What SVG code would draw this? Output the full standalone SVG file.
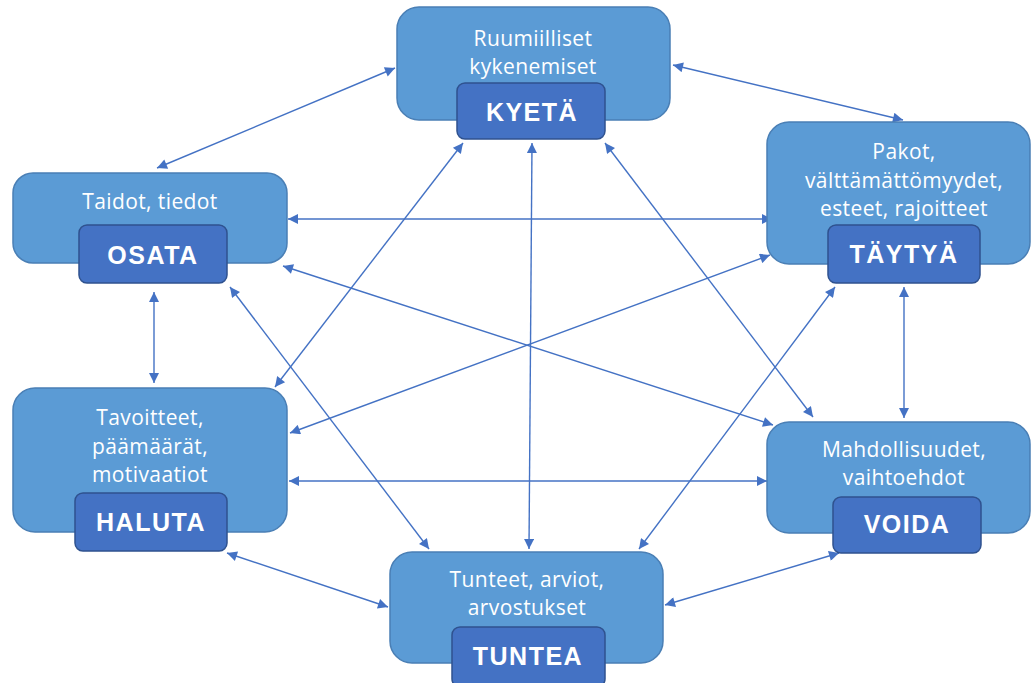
<svg xmlns="http://www.w3.org/2000/svg" width="1033" height="683" viewBox="0 0 1033 683">
<defs>
<style>
.outer{fill:#5b9bd5;stroke:#4a7fb5;stroke-width:1.5}
.inner{fill:#4472c4;stroke:#2f528f;stroke-width:1.5}
.t{font-family:"Open Sans","Liberation Sans",sans-serif;font-size:21px;letter-spacing:0.4px;fill:#ffffff;text-anchor:middle}
.lbl{font-family:"Liberation Sans",Arial,sans-serif;font-weight:bold;font-size:25px;letter-spacing:1.5px;fill:#ffffff;text-anchor:middle}
.c{stroke:#4472c4;stroke-width:1.4;fill:none;marker-start:url(#ah);marker-end:url(#ah)}
</style>
<marker id="ah" viewBox="0 0 10 10" refX="10" refY="5" markerWidth="12" markerHeight="10" markerUnits="userSpaceOnUse" orient="auto-start-reverse">
<path d="M0,0 L10,5 L0,10 Z" fill="#4472c4"/>
</marker>
</defs>
<rect width="1033" height="683" fill="#ffffff"/>
<g id="connectors">
<line class="c" x1="157" y1="168" x2="395" y2="68"/>
<line class="c" x1="673" y1="65" x2="903" y2="120"/>
<line class="c" x1="288" y1="219" x2="772" y2="219"/>
<line class="c" x1="154" y1="292" x2="154" y2="383"/>
<line class="c" x1="904" y1="287" x2="904" y2="418"/>
<line class="c" x1="289" y1="481" x2="767" y2="481"/>
<line class="c" x1="227" y1="553" x2="388" y2="607"/>
<line class="c" x1="839" y1="553" x2="665" y2="605"/>
<line class="c" x1="532" y1="143" x2="529" y2="549"/>
<line class="c" x1="463" y1="143" x2="275" y2="387"/>
<line class="c" x1="605" y1="143" x2="813" y2="417"/>
<line class="c" x1="283" y1="266" x2="773" y2="425"/>
<line class="c" x1="230" y1="287" x2="429" y2="549"/>
<line class="c" x1="770" y1="255" x2="290" y2="433"/>
<line class="c" x1="835" y1="287" x2="639" y2="549"/>
</g>
<g id="kyeta">
<rect class="outer" x="397" y="7" width="273" height="113" rx="22"/>
<text class="t" x="533" y="46">Ruumiilliset</text>
<text class="t" x="533" y="74">kykenemiset</text>
<rect class="inner" x="457" y="83" width="148" height="56" rx="8"/>
<text class="lbl" x="532" y="121">KYETÄ</text>
</g>
<g id="osata">
<rect class="outer" x="13" y="173" width="274" height="90" rx="20"/>
<text class="t" x="150" y="209">Taidot, tiedot</text>
<rect class="inner" x="79" y="225" width="148" height="58" rx="8"/>
<text class="lbl" x="153" y="264">OSATA</text>
</g>
<g id="taytya">
<rect class="outer" x="767" y="122" width="263" height="142" rx="22"/>
<text class="t" x="904" y="159">Pakot,</text>
<text class="t" x="904" y="188">välttämättömyydet,</text>
<text class="t" x="904" y="216">esteet, rajoitteet</text>
<rect class="inner" x="828" y="225" width="152" height="58" rx="8"/>
<text class="lbl" x="904" y="263">TÄYTYÄ</text>
</g>
<g id="haluta">
<rect class="outer" x="13" y="388" width="274" height="144" rx="22"/>
<text class="t" x="150" y="425">Tavoitteet,</text>
<text class="t" x="150" y="454">päämäärät,</text>
<text class="t" x="150" y="482">motivaatiot</text>
<rect class="inner" x="75" y="493" width="152" height="58" rx="8"/>
<text class="lbl" x="151" y="531">HALUTA</text>
</g>
<g id="voida">
<rect class="outer" x="767" y="422" width="263" height="111" rx="22"/>
<text class="t" x="904" y="457">Mahdollisuudet,</text>
<text class="t" x="904" y="485">vaihtoehdot</text>
<rect class="inner" x="833" y="497" width="148" height="56" rx="8"/>
<text class="lbl" x="907" y="533">VOIDA</text>
</g>
<g id="tuntea">
<rect class="outer" x="390" y="552" width="273" height="111" rx="22"/>
<text class="t" x="527" y="587">Tunteet, arviot,</text>
<text class="t" x="527" y="615">arvostukset</text>
<rect class="inner" x="452" y="627" width="153" height="60" rx="8"/>
<text class="lbl" x="528" y="665">TUNTEA</text>
</g>
</svg>
